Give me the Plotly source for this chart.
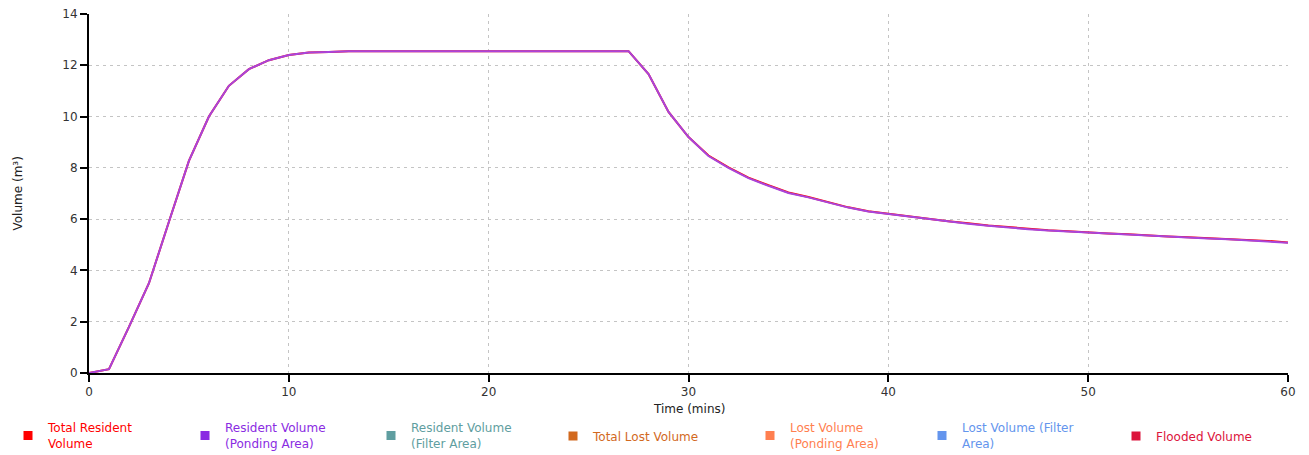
import plotly.graph_objects as go

time_min = list(range(0, 61))
ponding = [0, 0.15, 1.8, 3.5, 5.9, 8.27, 10.0, 11.2, 11.85, 12.2, 12.4, 12.5, 12.52, 12.55,
           12.55, 12.55, 12.55, 12.55, 12.55, 12.55, 12.55, 12.55, 12.55, 12.55, 12.55, 12.55, 12.55, 12.55,
           11.66, 10.18, 9.2, 8.46, 8.0, 7.6, 7.3, 7.02, 6.85, 6.65, 6.45, 6.3, 6.2,
           6.1, 6.0, 5.9, 5.82, 5.74, 5.67, 5.61, 5.56, 5.52, 5.47,
           5.42, 5.39, 5.35, 5.31, 5.28, 5.25, 5.22, 5.18, 5.14, 5.08]
total_resident = [0, 0.15, 1.8, 3.5, 5.9, 8.27, 10.0, 11.2, 11.85, 12.2, 12.4, 12.5, 12.52, 12.55,
                  12.55, 12.55, 12.55, 12.55, 12.55, 12.55, 12.55, 12.55, 12.55, 12.55, 12.55, 12.55, 12.55, 12.55,
                  11.66, 10.18, 9.2, 8.48, 8.02, 7.62, 7.32, 7.04, 6.86, 6.66, 6.46, 6.31, 6.21,
                  6.11, 6.03, 5.92, 5.84, 5.75, 5.69, 5.62, 5.57, 5.53, 5.48,
                  5.44, 5.41, 5.36, 5.32, 5.29, 5.26, 5.23, 5.19, 5.15, 5.09]

series_names = ["Total Resident<br>Volume", "Resident Volume<br>(Ponding Area)", "Resident Volume<br>(Filter Area)",
                "Total Lost Volume", "Lost Volume<br>(Ponding Area)", "Lost Volume (Filter<br>Area)", "Flooded Volume"]
series_colors = ["#ff0000", "#8a2be2", "#5f9ea0", "#d2691e", "#ff7f50", "#6495ed", "#dc143c"]
drawn_series = {0: total_resident, 1: ponding}
x_title = "Time (mins)"
y_title = "Volume (m³)"

W, H = 1309, 455
legend_left_px = [8, 185, 371, 553, 750, 922, 1116]
legend_mid_px = 436

fig = go.Figure()
for i in [0, 1]:
    c = series_colors[i]
    fig.add_trace(go.Scatter(x=time_min, y=drawn_series[i], mode="lines",
                             line=dict(color=("#a845dc" if i == 1 else c), width=2),
                             showlegend=False, hoverinfo="skip"))
legend_layouts = {}
for i in range(7):
    c = series_colors[i]
    key = "legend" if i == 0 else f"legend{i + 1}"
    fig.add_trace(go.Scatter(x=[None], y=[None], mode="markers",
                             marker=dict(symbol="square", size=9, color=c),
                             name=f"<span style='color:{c}'>{series_names[i]}</span>",
                             legend=key))
    legend_layouts[key] = dict(orientation="h", xref="container", yref="container",
                               x=legend_left_px[i] / W, y=1 - legend_mid_px / H,
                               xanchor="left", yanchor="middle", font=dict(size=12),
                               itemwidth=30, bgcolor="rgba(0,0,0,0)")

axis_common = dict(showline=True, linecolor="black", linewidth=2, ticks="outside", tickcolor="black",
                   ticklen=7, tickwidth=2, showgrid=True, gridcolor="#c4c4c4", griddash="3px,4px", gridwidth=1,
                   zeroline=False, tickfont=dict(size=12, color="#333333"), automargin=False)

fig.update_layout(
    width=W, height=H,
    margin=dict(l=89, r=21, t=14, b=82),
    plot_bgcolor="white", paper_bgcolor="white",
    font=dict(family="DejaVu Sans, sans-serif", size=12, color="#222"),
    xaxis=dict(range=[0, 60], dtick=10, **axis_common),
    yaxis=dict(range=[0, 14], dtick=2, **axis_common),
    annotations=[
        dict(text=x_title, xref="paper", yref="paper", x=0.5, y=0, yshift=-36,
             xanchor="center", yanchor="middle", showarrow=False, font=dict(size=12, color="#222")),
        dict(text=y_title, xref="paper", yref="paper", x=0, y=0.5, xshift=-72, textangle=-90,
             xanchor="center", yanchor="middle", showarrow=False, font=dict(size=12, color="#222")),
    ],
    **legend_layouts,
)
fig.write_html("out.html", post_script="document.body.style.margin='0px';",
               config={"displayModeBar": False})
